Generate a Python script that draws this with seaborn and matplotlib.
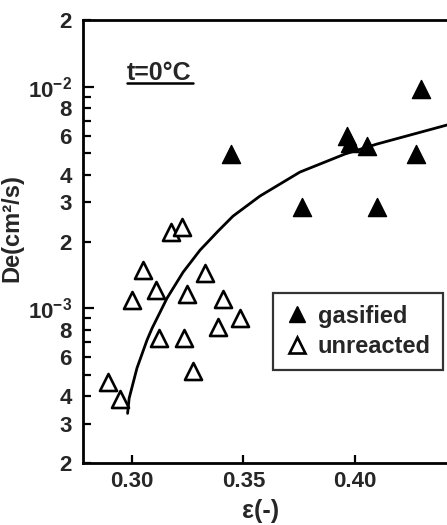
import matplotlib
matplotlib.use("Agg")
import matplotlib.pyplot as plt
from matplotlib.ticker import LogLocator, FuncFormatter, FixedLocator, NullFormatter
from matplotlib.lines import Line2D
import numpy as np
import seaborn as sns

# porosity eps(-) and effective diffusivity De (cm2/s)
eps_gasified = [0.3444, 0.3762, 0.3964, 0.3978, 0.4054, 0.4099, 0.4274, 0.4296]
de_gasified = [4.97e-3, 2.86e-3, 5.99e-3, 5.57e-3, 5.40e-3, 2.86e-3, 4.97e-3, 9.76e-3]

eps_unreacted = [0.2892, 0.2946, 0.3000, 0.3049, 0.3108, 0.3121, 0.3175, 0.3224,
                 0.3233, 0.3247, 0.3274, 0.3327, 0.3386, 0.3408, 0.3484]
de_unreacted = [4.63e-4, 3.88e-4, 1.087e-3, 1.485e-3, 1.204e-3, 7.32e-4, 2.205e-3, 2.323e-3,
                7.32e-4, 1.157e-3, 5.19e-4, 1.439e-3, 8.20e-4, 1.098e-3, 9.01e-4]

# fitted curve
eps_fit = [0.2980, 0.2987, 0.3022, 0.3067, 0.3090, 0.3157, 0.3229, 0.3305,
           0.3386, 0.3453, 0.3574, 0.3753, 0.3955, 0.4099, 0.4413]
de_fit = [3.35e-4, 3.92e-4, 5.36e-4, 7.17e-4, 8.12e-4, 1.110e-3, 1.454e-3, 1.828e-3,
          2.228e-3, 2.604e-3, 3.208e-3, 4.115e-3, 4.965e-3, 5.509e-3, 6.713e-3]

xticks = [0.30, 0.35, 0.40]
xticklabels = ["0.30", "0.35", "0.40"]

sns.set_style("ticks")
plt.rcParams["font.family"] = ["Liberation Sans", "DejaVu Sans"]
plt.rcParams["font.weight"] = "bold"
plt.rcParams["mathtext.fontset"] = "custom"
plt.rcParams["mathtext.rm"] = "Liberation Sans"
plt.rcParams["mathtext.bf"] = "Liberation Sans:bold"

fig = plt.figure(figsize=(4.47, 5.25), dpi=100)
ax = fig.add_axes([0.1857, 0.1181, 0.8143, 0.8438])

sns.lineplot(x=eps_fit, y=de_fit, color="black", linewidth=2.0, ax=ax, sort=False)

sns.scatterplot(x=eps_gasified, y=de_gasified, marker="^", s=170, color="black",
                edgecolor="black", linewidth=1.0, ax=ax, zorder=3)
sns.scatterplot(x=eps_unreacted, y=de_unreacted, marker="^", s=150, facecolor="white",
                edgecolor="black", linewidth=1.9, ax=ax, zorder=3)

ax.set_yscale("log")
ax.set_xlim(0.278, 0.4413)
ax.set_ylim(2e-4, 2e-2)

ax.yaxis.set_major_locator(FixedLocator([1e-3, 1e-2]))
ax.yaxis.set_major_formatter(FuncFormatter(
    lambda v, p: r"$\mathbf{10^{%d}}$" % int(round(np.log10(v)))))
ax.yaxis.set_minor_locator(LogLocator(base=10, subs=range(2, 10)))


def minor_fmt(v, p):
    d = int(round(v / 10 ** np.floor(np.log10(v) + 1e-9)))
    return str(d) if d in (2, 3, 4, 6, 8) else ""


ax.yaxis.set_minor_formatter(FuncFormatter(minor_fmt))

ax.set_xticks(xticks)
ax.set_xticklabels(xticklabels)
ax.xaxis.set_minor_formatter(NullFormatter())

ax.tick_params(axis="both", which="both", direction="in", width=1.6, length=6,
               labelsize=16, pad=8, color="black")
ax.tick_params(axis="y", which="major", length=8)
ax.tick_params(axis="x", which="major", pad=6)

for s in ["left", "bottom", "top"]:
    ax.spines[s].set_linewidth(2.0)
    ax.spines[s].set_color("black")
ax.spines["right"].set_visible(False)

ax.set_ylabel("De(cm²/s)", fontsize=17, fontweight="bold")
ax.yaxis.set_label_coords(-0.165, 0.53)
ax.set_xlabel("ε(-)", fontsize=18, fontweight="bold")
ax.xaxis.set_label_coords(0.489, -0.082)

ax.text(0.121, 0.865, "t=0°C", transform=ax.transAxes, fontsize=18,
        fontweight="bold", va="baseline", ha="left")
ax.add_line(Line2D([0.121, 0.302], [0.857, 0.857], transform=ax.transAxes,
                   color="black", linewidth=1.8))

handles = [
    Line2D([], [], marker="^", linestyle="none", markersize=12, markerfacecolor="black",
           markeredgecolor="black", label="gasified"),
    Line2D([], [], marker="^", linestyle="none", markersize=11, markerfacecolor="white",
           markeredgecolor="black", markeredgewidth=1.9, label="unreacted"),
]
leg = ax.legend(handles=handles, loc="upper left", bbox_to_anchor=(0.522, 0.384),
                borderaxespad=0, frameon=True, fancybox=False, fontsize=17,
                handlelength=1.0, handletextpad=0.4, borderpad=0.5, labelspacing=0.3)
leg.get_frame().set_edgecolor("black")
leg.get_frame().set_linewidth(1.6)
for t in leg.get_texts():
    t.set_fontweight("bold")

fig.savefig("out.png", dpi=100)
